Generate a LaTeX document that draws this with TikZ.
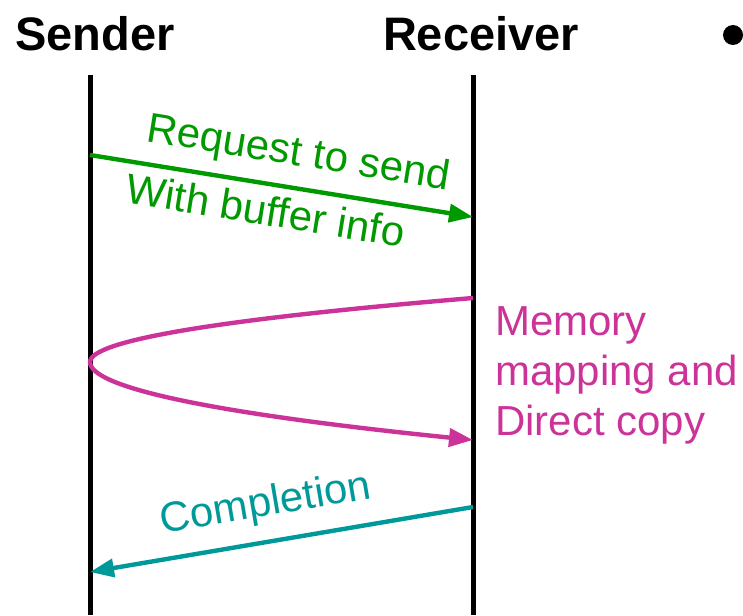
\documentclass[tikz,border=0pt]{standalone}
\usepackage{fontspec}
\setmainfont{Liberation Sans}
\usetikzlibrary{arrows.meta}
\definecolor{sendgreen}{RGB}{0,153,0}
\definecolor{copypink}{RGB}{204,51,153}
\definecolor{donecyan}{RGB}{0,153,153}

\begin{document}
\begin{tikzpicture}[x=0.5pt, y=-0.5pt,
        head/.style = {font=\fontsize{23.5}{28}\selectfont\bfseries, anchor=base},
        msg/.style = {font=\fontsize{21}{25}\selectfont},
        life/.style = {line width=2.5pt},
        arr/.style = {line width=2.2pt, -{Triangle[length=12pt,width=9pt]}}]
        \useasboundingbox (0,0) rectangle (743,615);

        \node[head] (S) at (95,51) {Sender};
        \node[head] (R) at (481,51) {Receiver};
        \node[circle, fill, inner sep=0pt, minimum size=10pt] (dot) at (733,35) {};

        % lifelines
        \coordinate (Stop) at (90,75);
        \coordinate (Sbot) at (90,615);
        \coordinate (Rtop) at (473,75);
        \coordinate (Rbot) at (473,615);
        \draw[life] (Stop) -- (Sbot);
        \draw[life] (Rtop) -- (Rbot);

        % message points
        \coordinate (s1) at (90,155);
        \coordinate (r1) at (473,217);
        \coordinate (r2) at (473,298);
        \coordinate (turn) at (90,362);
        \coordinate (r3) at (473,440);
        \coordinate (r4) at (473,507);
        \coordinate (s4) at (90,572);

        \draw[arr, sendgreen] (s1) -- (r1)
            node [msg, pos=0.53, above, sloped, yshift=2.5pt] {Request to send}
            node [msg, pos=0.47, below, sloped, yshift=-1pt] {With buffer info};
        \draw[arr, copypink] (r2) .. controls (217.7,319.3) and (90,340.7) .. (turn)
            .. controls (90,388) and (217.7,414) .. (r3);
        \node[msg, copypink, align=left, anchor=north west] (M) at (488,300) {Memory\\mapping and\\Direct copy};
        \draw[arr, donecyan, {Triangle[length=12pt,width=9pt]}-] (s4) -- (r4)
            node [msg, pos=0.475, above, sloped, yshift=4pt] {Completion};
    \end{tikzpicture}
\end{document}
